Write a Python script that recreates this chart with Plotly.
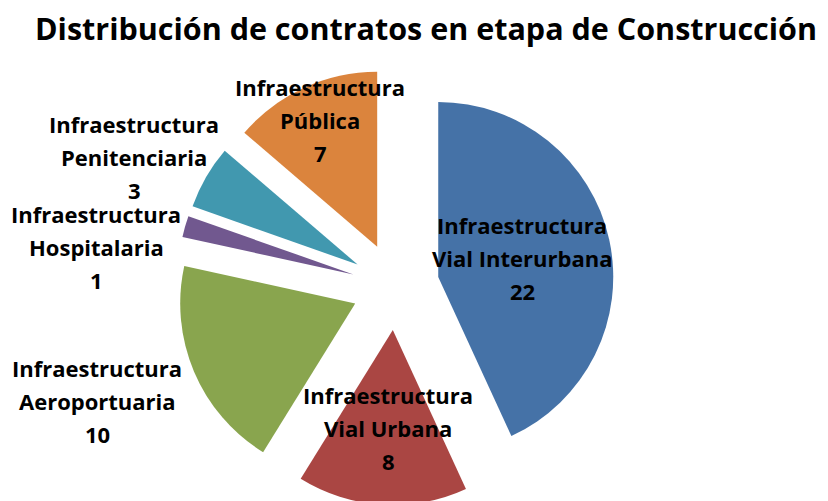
import plotly.graph_objects as go

# ---- data ----
categories = [
    "Infraestructura Vial Interurbana",
    "Infraestructura Vial Urbana",
    "Infraestructura Aeroportuaria",
    "Infraestructura Hospitalaria",
    "Infraestructura Penitenciaria",
    "Infraestructura Pública",
]
values = [22, 8, 10, 1, 3, 7]
colors = ["#4572A7", "#AA4643", "#89A54E", "#71588F", "#4198AF", "#DB843D"]
title_text = "Distribución de contratos en etapa de Construcción"

W, H = 828, 512          # figure slightly taller than the 501px window (bottom is clipped like the reference)
FONT = "Open Sans"

# pie geometry (pixels from top-left)
cx, cy, half = 395.5, 286.4, 218.75
fig = go.Figure(go.Pie(
    labels=categories,
    values=values,
    sort=False,
    direction="clockwise",
    rotation=0,
    pull=[0.25] * len(values),
    marker=dict(colors=colors, line=dict(width=0)),
    textinfo="none",
    hoverinfo="label+value",
    showlegend=False,
    domain=dict(x=[(cx - half) / W, (cx + half) / W],
                y=[(H - cy - half) / H, (H - cy + half) / H]),
))

# label layout (pixel centre x, first-line y) for each category
label_pos = [(522, 225), (388, 395), (97, 368), (96, 214), (134, 124), (320, 87)]
line_gap = 33

annotations = []
for cat, val, (px, py) in zip(categories, values, label_pos):
    first, rest = cat.split(" ", 1)
    lines = [first, rest, str(val)]
    for i, ln in enumerate(lines):
        y = py + i * line_gap
        annotations.append(dict(
            x=px / W, y=1 - y / H, xref="paper", yref="paper",
            text="<b>%s</b>" % ln, showarrow=False,
            xanchor="center", yanchor="middle",
            font=dict(family=FONT, size=22, color="black"),
        ))

annotations.append(dict(
    x=426 / W, y=1 - 28 / H, xref="paper", yref="paper",
    text="<b>%s</b>" % title_text, showarrow=False,
    xanchor="center", yanchor="middle",
    font=dict(family=FONT, size=30.5, color="black"),
))

fig.update_layout(
    width=W, height=H,
    margin=dict(l=0, r=0, t=0, b=0),
    paper_bgcolor="white", plot_bgcolor="white",
    annotations=annotations,
)

fig.write_html(
    "out.html",
    config={"displayModeBar": False},
    post_script="document.body.style.margin='0px';document.body.style.overflow='hidden';",
)
